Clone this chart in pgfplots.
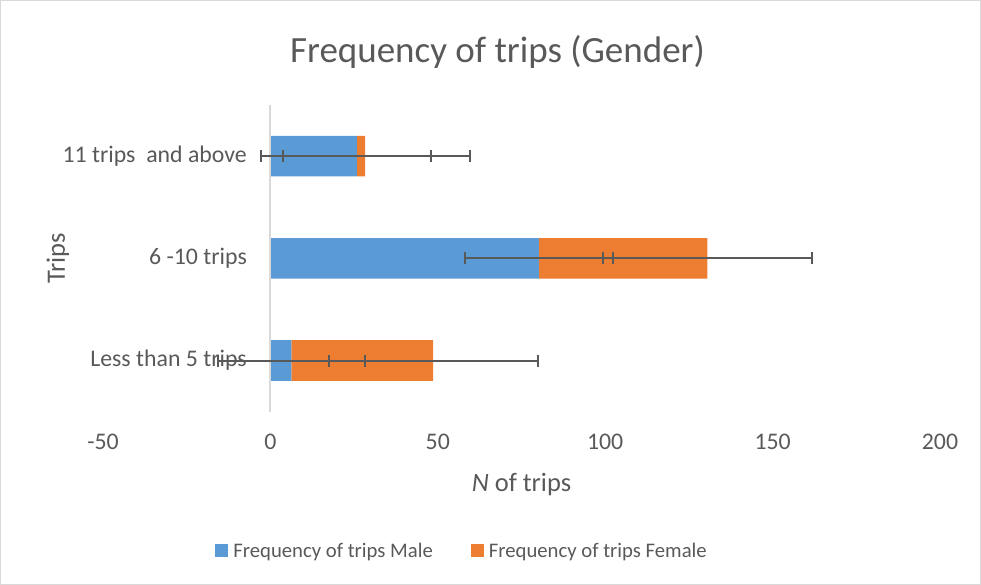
\documentclass[border=0pt]{standalone}
\usepackage{pgfplots}
\pgfplotsset{compat=1.18}
\usepackage{fontspec}
\setmainfont{Carlito}
\definecolor{cblue}{HTML}{5B9BD5}
\definecolor{corange}{HTML}{ED7D31}
\definecolor{ctext}{HTML}{595959}
\definecolor{cborder}{HTML}{D9D9D9}
\definecolor{cerr}{HTML}{595959}
\definecolor{czero}{HTML}{D9D9D9}
\newcommand\tickfont{\fontsize{23.8bp}{28bp}\selectfont}
\newcommand\legfont{\fontsize{20.7bp}{25bp}\selectfont}
\newcommand\labfont{\fontsize{26.5bp}{31bp}\selectfont}
\newcommand\titfont{\fontsize{37bp}{44bp}\selectfont}
\begin{document}
\begin{tikzpicture}
\begin{axis}[
  at={(0,0)}, anchor=south west,
  scale only axis, width=837bp, height=306.7bp,
  xmin=-50, xmax=200, ymin=-0.5, ymax=2.5,
  xbar stacked, bar width=40.7bp,
  xtick={-50,0,50,100,150,200},
  ytick={0,1,2},
  yticklabels={Less than 5 trips, 6 -10 trips, 11 trips\ \ and above},
  axis line style={draw=none},
  major tick length=0pt,
  tick style={draw=none},
  /pgf/number format/assume math mode=true,
  x tick label style={font=\tickfont, text=ctext, anchor=center, yshift=-30.5bp},
  y tick label style={font=\tickfont, text=ctext, anchor=east, inner sep=0pt, xshift=144bp},
  title={Frequency of trips (Gender)},
  title style={at={(0.4713,1.155)}, anchor=center, font=\titfont, text=ctext},
  xlabel={\textit{N} of trips},
  xlabel style={at={(0.5,-0.2364)}, anchor=center, font=\labfont, text=ctext},
  ylabel={Trips},
  ylabel style={at={(-0.0538,0.5)}, anchor=center, font=\labfont, text=ctext},
  legend style={at={(0.429,-0.454)}, anchor=center, draw=none, fill=none,
    legend columns=2, font=\legfont, text=ctext,
    /tikz/every even column/.append style={column sep=36bp}},
  legend cell align=left,
  legend image code/.code={\fill[#1] (0bp,-6.5bp) rectangle (13bp,6.5bp);\path (0bp,0bp) -- (16bp,0bp);},
]
\draw[czero, line width=2bp] (axis cs:0,-0.5) -- (axis cs:0,2.5);
\addplot[fill=cblue, draw=none] coordinates {(6.3,0) (80.2,1) (25.8,2)};
\addlegendentry{Frequency of trips Male}
\addplot[fill=corange, draw=none] coordinates {(42.3,0) (50.3,1) (2.5,2)};
\addlegendentry{Frequency of trips Female}
\end{axis}
\begin{axis}[
  at={(0,0)}, anchor=south west,
  scale only axis, width=837bp, height=306.7bp,
  xmin=-50, xmax=200, ymin=-0.5, ymax=2.5,
  hide axis, clip=false,
]
\addplot[draw=none, mark=none, forget plot, line width=2bp,
  error bars/.cd, x dir=both, x explicit,
  error bar style={line width=2bp, draw=cerr},
  error mark options={rotate=90, draw=cerr, line width=2bp, mark size=6bp}]
  coordinates {(6.3,0) +- (22.1,0) (80.2,1) +- (22.1,0) (25.8,2) +- (22.1,0)};
\addplot[draw=none, mark=none, forget plot, line width=2bp,
  error bars/.cd, x dir=both, x explicit,
  error bar style={line width=2bp, draw=cerr},
  error mark options={rotate=90, draw=cerr, line width=2bp, mark size=6bp}]
  coordinates {(48.6,0) +- (31.2,0) (130.5,1) +- (31.2,0) (28.3,2) +- (31.2,0)};
\end{axis}
\pgfresetboundingbox
\useasboundingbox (-103bp,-173.3bp) rectangle (878bp,411.7bp);
\draw[cborder, line width=1bp] (-102.5bp,-172.8bp) rectangle (877.5bp,411.2bp);
\end{tikzpicture}
\end{document}
